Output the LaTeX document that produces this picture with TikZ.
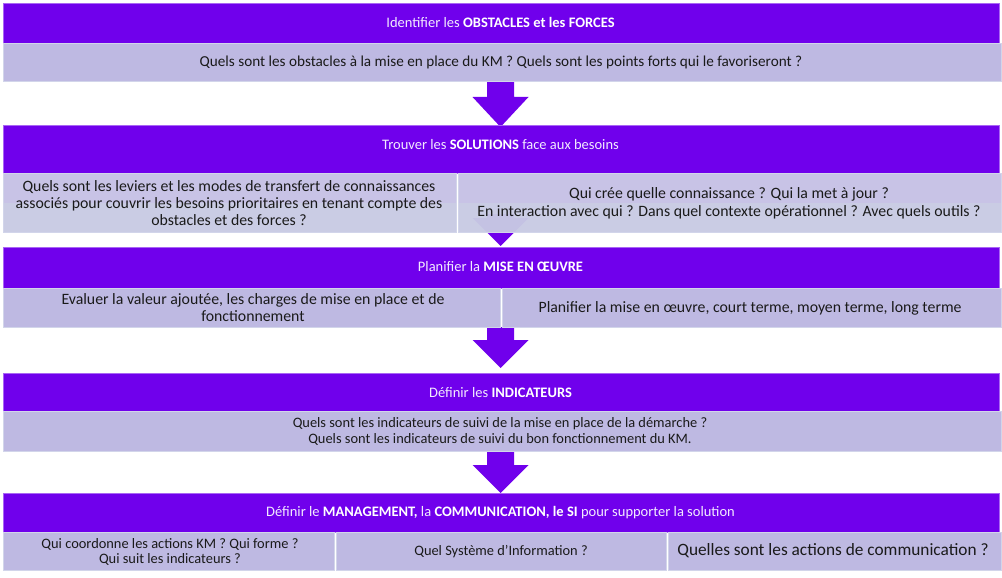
\documentclass[tikz,border=0pt]{standalone}
\usepackage{fontspec}
\setmainfont{Carlito}
\definecolor{hdrpurple}{HTML}{7000EC}
\definecolor{lav}{HTML}{BEB9E2}
\definecolor{lavlight}{HTML}{CBCFE4}
\definecolor{lavedge}{HTML}{D2D5EA}
\definecolor{hdrtext}{HTML}{F2EAFF}
\definecolor{bodytext}{HTML}{1A1A1A}
\tikzset{
  hdrbox/.style={fill=hdrpurple, draw=hdrpurple!60!white, line width=0.6pt, inner sep=0pt, anchor=north west},
  subbox/.style={fill=lav, draw=lavedge, line width=0.8pt, inner sep=0pt, anchor=north west},
  hdrlabel/.style={text=hdrtext, font=\fontsize{14.5}{17}\selectfont, inner sep=0pt},
  sublabel/.style={text=bodytext, font=\fontsize{15.8}{17}\selectfont, inner sep=0pt, align=center},
  blockarrow/.style={fill=hdrpurple, draw=none}
}
\newcommand{\hb}[1]{\textbf{\color{white}#1}}
\begin{document}
\begin{tikzpicture}[x=1pt,y=-1pt]
\useasboundingbox (0,0) rectangle (1002,578);

% ---------- arrows (drawn first, boxes may overlap them)
\coordinate (a1t) at (500.5,81);  \coordinate (a1h) at (500.5,97);  \coordinate (a1p) at (500.5,127);
\coordinate (a2t) at (500.5,214); \coordinate (a2h) at (500.5,218); \coordinate (a2p) at (500.5,246);
\coordinate (a3t) at (500.5,327); \coordinate (a3h) at (500.5,340); \coordinate (a3p) at (500.5,368);
\coordinate (a4t) at (500.5,451); \coordinate (a4h) at (500.5,465); \coordinate (a4p) at (500.5,493);
\foreach \a in {a1,a2,a3,a4}{
  \fill[blockarrow] ([xshift=-13.5pt]\a t) -- ([xshift=13.5pt]\a t) -- ([xshift=13.5pt]\a h)
    -- ([xshift=28pt]\a h) -- (\a p) -- ([xshift=-28pt]\a h) -- ([xshift=-13.5pt]\a h) -- cycle;
}

% ---------- section 1
\node[hdrbox, minimum width=996pt, minimum height=40pt] (h1) at (3,3) {};
\node[hdrlabel] (h1t) at (500.5,22) {Identifier les \hb{OBSTACLES et les FORCES}};
\node[subbox, minimum width=998pt, minimum height=38pt] (s1) at (3,43) {};
\node[sublabel, font=\fontsize{15.2}{17}\selectfont] (s1t) at (501,62) {Quels sont les obstacles à la mise en place du KM ? Quels sont les points forts qui le favoriseront ?};

% ---------- section 2
\node[hdrbox, minimum width=996pt, minimum height=48pt] (h2) at (3,125) {};
\node[hdrlabel] (h2t) at (500.5,145) {Trouver les \hb{SOLUTIONS} face aux besoins};
\node[subbox, fill opacity=0.85, minimum width=453pt, minimum height=59pt] (s2a) at (3,173) {};
\node[subbox, fill opacity=0.85, minimum width=543pt, minimum height=59pt] (s2b) at (458,173) {};
\fill[lavlight, fill opacity=0.75] (4,203) rectangle (455.5,231.5);
\fill[lavlight, fill opacity=0.75] (459,203) rectangle (1000.5,231.5);
\node[sublabel, font=\fontsize{15.8}{17}\selectfont] (s2at) at (229,203) {Quels sont les leviers et les modes de transfert de connaissances\\associés pour couvrir les besoins prioritaires en tenant compte des\\obstacles et des forces ?};
\node[sublabel, font=\fontsize{15.8}{18}\selectfont] (s2bt) at (729,203) {Qui crée quelle connaissance ? Qui la met à jour ?\\En interaction avec qui ? Dans quel contexte opérationnel ? Avec quels outils ?};

% ---------- section 3
\node[hdrbox, minimum width=996pt, minimum height=41pt] (h3) at (3,247) {};
\node[hdrlabel] (h3t) at (500.5,267) {Planifier la \hb{MISE EN ŒUVRE}};
\node[subbox, minimum width=497pt, minimum height=39pt] (s3a) at (3,288) {};
\node[subbox, minimum width=499pt, minimum height=39pt] (s3b) at (502,288) {};
\node[sublabel] (s3at) at (253,307.5) {Evaluer la valeur ajoutée, les charges de mise en place et de\\fonctionnement};
\node[sublabel] (s3bt) at (750,308) {Planifier la mise en œuvre, court terme, moyen terme, long terme};

% ---------- section 4
\node[hdrbox, minimum width=996pt, minimum height=38pt] (h4) at (3,373) {};
\node[hdrlabel] (h4t) at (500.5,393) {Définir les \hb{INDICATEURS}};
\node[subbox, minimum width=998pt, minimum height=40pt] (s4) at (3,411) {};
\node[sublabel, font=\fontsize{14.4}{16}\selectfont] (s4t) at (500,431) {Quels sont les indicateurs de suivi de la mise en place de la démarche ?\\Quels sont les indicateurs de suivi du bon fonctionnement du KM.};

% ---------- section 5
\node[hdrbox, minimum width=996pt, minimum height=39pt] (h5) at (3,493) {};
\node[hdrlabel] (h5t) at (500.5,513) {Définir le \hb{MANAGEMENT,} la \hb{COMMUNICATION, le SI} pour supporter la solution};
\node[subbox, minimum width=331pt, minimum height=38pt] (s5a) at (3,532) {};
\node[subbox, minimum width=330pt, minimum height=38pt] (s5b) at (336,532) {};
\node[subbox, minimum width=333pt, minimum height=38pt] (s5c) at (668,532) {};
\node[sublabel, font=\fontsize{14.4}{15}\selectfont] (s5at) at (170,551.5) {Qui coordonne les actions KM ? Qui forme ?\\Qui suit les indicateurs ?};
\node[sublabel, font=\fontsize{14.4}{15}\selectfont] (s5bt) at (501,551.5) {Quel Système d’Information ?};
\node[sublabel, font=\fontsize{17.3}{19}\selectfont] (s5ct) at (833,551) {Quelles sont les actions de communication ?};
\end{tikzpicture}
\end{document}
